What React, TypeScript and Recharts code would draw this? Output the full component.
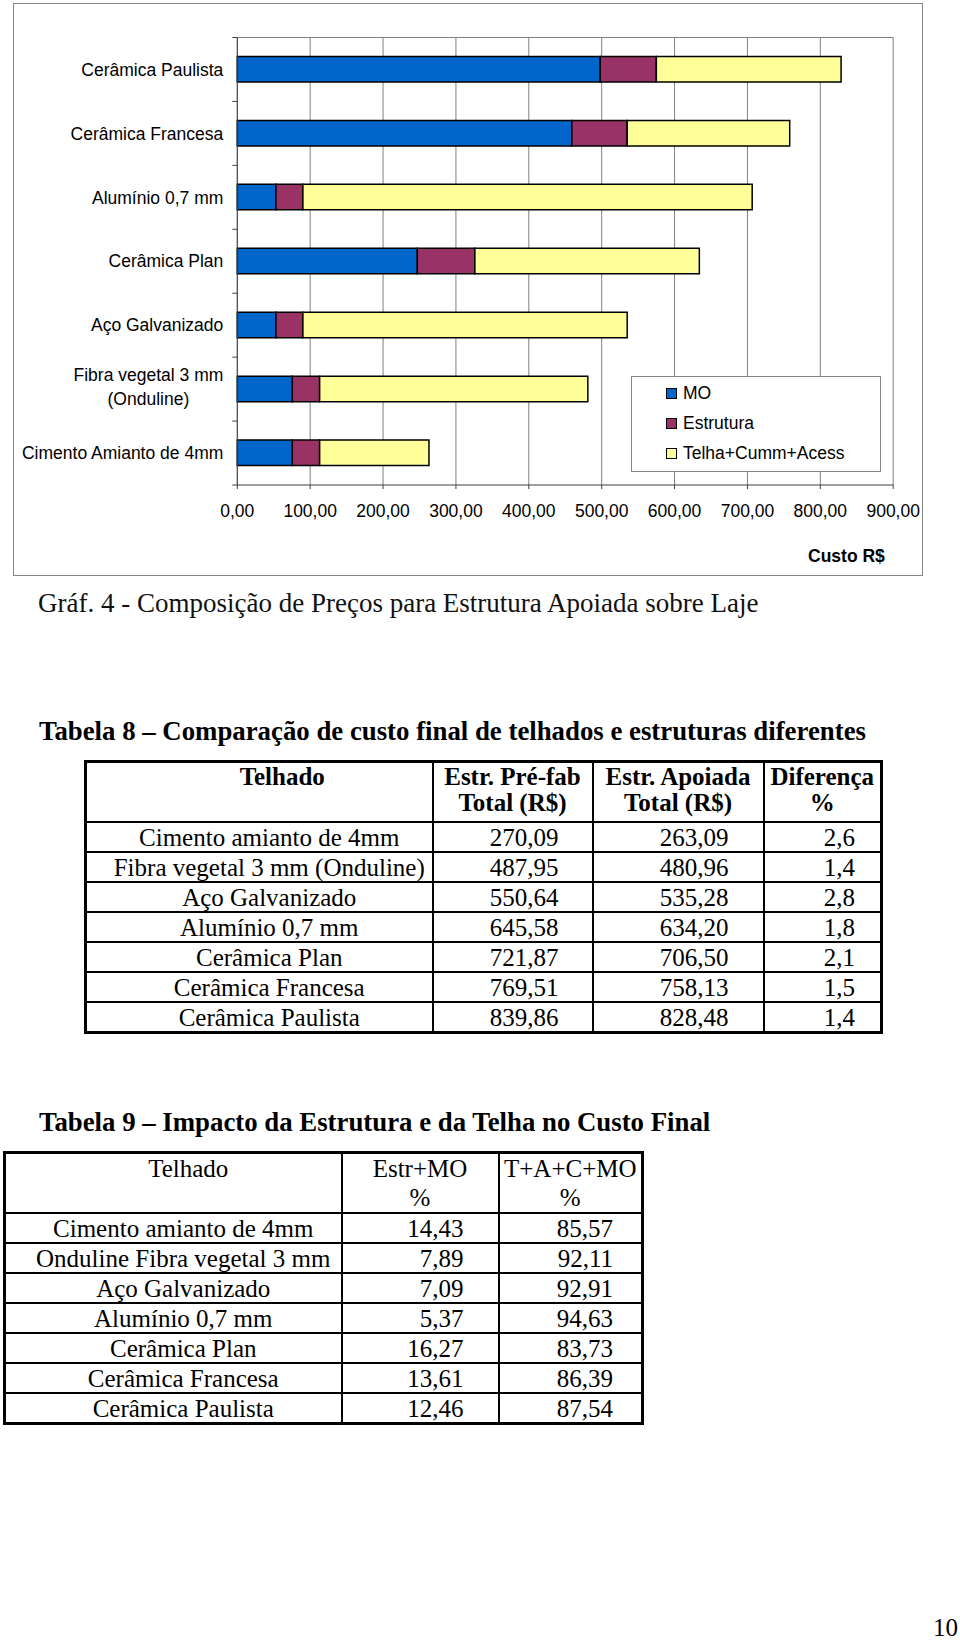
import React from 'react';
import { BarChart, Bar, XAxis, YAxis, CartesianGrid } from 'recharts';

// chart data, top row first
const categories = [
  'Cerâmica Paulista',
  'Cerâmica Francesa',
  'Alumínio 0,7 mm',
  'Cerâmica Plan',
  'Aço Galvanizado',
  'Fibra vegetal 3 mm\n(Onduline)',
  'Cimento Amianto de 4mm',
];
const moValues = [498, 459, 53, 247, 53, 75.5, 75.5];
const estruturaValues = [77, 76, 37, 79, 37, 37.5, 37.5];
const telhaValues = [253.5, 223, 616.5, 308, 445, 368, 150];
const xTicks = [0, 100, 200, 300, 400, 500, 600, 700, 800, 900];

const series = [
  { key: 'mo', name: 'MO', color: '#0066CC' },
  { key: 'estrutura', name: 'Estrutura', color: '#993366' },
  { key: 'telha', name: 'Telha+Cumm+Acess', color: '#FFFF99' },
];

// Tabela 8
const t8Names = [
  'Cimento amianto de 4mm',
  'Fibra vegetal 3 mm (Onduline)',
  'Aço Galvanizado',
  'Alumínio 0,7 mm',
  'Cerâmica Plan',
  'Cerâmica Francesa',
  'Cerâmica Paulista',
];
const t8PreFab = ['270,09', '487,95', '550,64', '645,58', '721,87', '769,51', '839,86'];
const t8Apoiada = ['263,09', '480,96', '535,28', '634,20', '706,50', '758,13', '828,48'];
const t8Diferenca = ['2,6', '1,4', '2,8', '1,8', '2,1', '1,5', '1,4'];

// Tabela 9
const t9Names = [
  'Cimento amianto de 4mm',
  'Onduline Fibra vegetal 3 mm',
  'Aço Galvanizado',
  'Alumínio 0,7 mm',
  'Cerâmica Plan',
  'Cerâmica Francesa',
  'Cerâmica Paulista',
];
const t9EstrMo = ['14,43', '7,89', '7,09', '5,37', '16,27', '13,61', '12,46'];
const t9Tacmo = ['85,57', '92,11', '92,91', '94,63', '83,73', '86,39', '87,54'];

const chartData = categories.map((name, i) => ({
  name,
  mo: moValues[i],
  estrutura: estruturaValues[i],
  telha: telhaValues[i],
}));

const SANS = "'Liberation Sans', Arial, sans-serif";
const SERIF = "'Liberation Serif', 'Times New Roman', serif";
const FS = 17.5;

const CHART_W = 910;
const CHART_H = 573;
const MARGIN = { top: 33.5, right: 29.8, bottom: 51, left: 0 };
const TOP_AXIS_H = 1;
const X_AXIS_H = 40;
const Y_AXIS_W = 224.3;
const PLOT_H = CHART_H - MARGIN.top - MARGIN.bottom - TOP_AXIS_H - X_AXIS_H;
const AXIS_COLOR = '#404040';
const GRID_COLOR = '#808080';

let measureCtx: CanvasRenderingContext2D | null = null;
function textWidth(s: string, font: string) {
  if (!measureCtx) measureCtx = document.createElement('canvas').getContext('2d');
  if (!measureCtx) return s.length * 9;
  measureCtx.font = font;
  return measureCtx.measureText(s).width;
}

function CategoryTick(props: any) {
  const { x, y, payload, index } = props;
  const lines = String(payload.value).split('\n');
  const band = PLOT_H / categories.length;
  const right = x - 14;
  const multi = lines.length > 1;
  const widest = Math.max(...lines.map((l) => textWidth(l, `${FS}px ${SANS}`)));
  const lineH = 24.7;
  const startY = y - ((lines.length - 1) * lineH) / 2 - (multi ? 2.3 : 0);
  return (
    <g>
      <line x1={x - 5} x2={x} y1={y - band / 2} y2={y - band / 2} stroke={AXIS_COLOR} strokeWidth={1} />
      {index === categories.length - 1 && (
        <line x1={x - 5} x2={x} y1={y + band / 2} y2={y + band / 2} stroke={AXIS_COLOR} strokeWidth={1} />
      )}
      <text fontFamily={SANS} fontSize={FS} fill="#000" textAnchor={multi ? 'middle' : 'end'}>
        {lines.map((l, i) => (
          <tspan key={i} x={multi ? right - widest / 2 : right} y={startY + i * lineH} dy="0.355em">
            {l}
          </tspan>
        ))}
      </text>
    </g>
  );
}

const fmt = (v: number) => v.toFixed(2).replace('.', ',');

function CostChart() {
  return (
    <BarChart
      width={CHART_W}
      height={CHART_H}
      data={chartData}
      layout="vertical"
      margin={MARGIN}
      barSize={25.5}
    >
      <CartesianGrid horizontal={false} stroke={GRID_COLOR} strokeWidth={1} />
      <XAxis
        type="number"
        domain={[0, 900]}
        ticks={xTicks}
        tickFormatter={fmt}
        height={X_AXIS_H}
        tick={{ fontSize: FS, fill: '#000', fontFamily: SANS }}
        axisLine={{ stroke: AXIS_COLOR }}
        tickLine={{ stroke: AXIS_COLOR }}
        tickSize={4}
        tickMargin={15.5}
        interval={0}
      />
      <XAxis
        xAxisId="top"
        orientation="top"
        type="number"
        domain={[0, 900]}
        height={TOP_AXIS_H}
        tick={false}
        tickLine={false}
        axisLine={{ stroke: GRID_COLOR }}
      />
      <YAxis
        type="category"
        dataKey="name"
        width={Y_AXIS_W}
        tick={<CategoryTick />}
        tickLine={false}
        tickSize={0}
        tickMargin={0}
        axisLine={{ stroke: AXIS_COLOR }}
        interval={0}
      />
      {series.map((s) => (
        <Bar
          key={s.key}
          dataKey={s.key}
          name={s.name}
          stackId="a"
          fill={s.color}
          stroke="#000"
          strokeWidth={1.5}
          isAnimationActive={false}
        />
      ))}
    </BarChart>
  );
}

function ChartLegend() {
  return (
    <div
      style={{
        position: 'absolute', left: 631, top: 376, width: 250, height: 96,
        border: '1.5px solid #888', background: '#fff', boxSizing: 'border-box',
      }}
    >
      {series.map((s, i) => (
        <div key={s.key} style={{ position: 'absolute', left: 34, top: 5 + i * 30.2, height: 22, display: 'flex', alignItems: 'center' }}>
          <span style={{ width: 11, height: 11, background: s.color, border: '1.5px solid #000', display: 'inline-block', boxSizing: 'border-box' }} />
          <span style={{ marginLeft: 6, fontFamily: SANS, fontSize: FS, color: '#000', lineHeight: '22px' }}>{s.name}</span>
        </div>
      ))}
    </div>
  );
}

const td: React.CSSProperties = {
  border: '2px solid #000', padding: 0, fontFamily: SERIF, fontSize: 25, color: '#000', whiteSpace: 'nowrap',
};

function Tabela8() {
  const num: React.CSSProperties = { ...td, textAlign: 'right', lineHeight: '26px', height: 26, paddingTop: 2 };
  const head: React.CSSProperties = { ...td, fontWeight: 'bold', textAlign: 'center', verticalAlign: 'top', lineHeight: '26px', height: 57, paddingTop: 1 };
  return (
    <table style={{ position: 'absolute', left: 84, top: 760, width: 796, borderCollapse: 'collapse', tableLayout: 'fixed', border: '3px solid #000' }}>
      <colgroup>
        <col style={{ width: 347 }} />
        <col style={{ width: 160 }} />
        <col style={{ width: 171 }} />
        <col style={{ width: 118 }} />
      </colgroup>
      <tbody>
        <tr>
          <td style={{ ...head, paddingLeft: 46 }}>Telhado</td>
          <td style={head}>Estr. Pré-fab<br />Total (R$)</td>
          <td style={head}>Estr. Apoiada<br />Total (R$)</td>
          <td style={head}>Diferença<br />%</td>
        </tr>
        {t8Names.map((n, i) => (
          <tr key={n}>
            <td style={{ ...num, textAlign: 'center', paddingLeft: 20 }}>{n}</td>
            <td style={{ ...num, paddingRight: 33 }}>{t8PreFab[i]}</td>
            <td style={{ ...num, paddingRight: 34 }}>{t8Apoiada[i]}</td>
            <td style={{ ...num, paddingRight: 25 }}>{t8Diferenca[i]}</td>
          </tr>
        ))}
      </tbody>
    </table>
  );
}

function Tabela9() {
  const num: React.CSSProperties = { ...td, textAlign: 'right', lineHeight: '26px', height: 26, paddingTop: 2 };
  const head: React.CSSProperties = { ...td, textAlign: 'center', verticalAlign: 'top', lineHeight: '29px', height: 57, paddingTop: 0 };
  return (
    <table style={{ position: 'absolute', left: 3, top: 1151, width: 638, borderCollapse: 'collapse', tableLayout: 'fixed', border: '3px solid #000' }}>
      <colgroup>
        <col style={{ width: 337 }} />
        <col style={{ width: 157 }} />
        <col style={{ width: 144 }} />
      </colgroup>
      <tbody>
        <tr>
          <td style={{ ...head, paddingLeft: 30 }}>Telhado</td>
          <td style={head}>Estr+MO<br />%</td>
          <td style={head}>T+A+C+MO<br />%</td>
        </tr>
        {t9Names.map((n, i) => (
          <tr key={n}>
            <td style={{ ...num, textAlign: 'center', paddingLeft: 20 }}>{n}</td>
            <td style={{ ...num, paddingRight: 34 }}>{t9EstrMo[i]}</td>
            <td style={{ ...num, paddingRight: 28 }}>{t9Tacmo[i]}</td>
          </tr>
        ))}
      </tbody>
    </table>
  );
}

export default function App() {
  return (
    <div style={{ position: 'absolute', left: 0, top: 0, width: 960, height: 1640, background: '#fff', overflow: 'hidden' }}>
      <div style={{ position: 'absolute', left: 13, top: 3, width: CHART_W, height: CHART_H }}>
        <CostChart />
      </div>
      <div style={{ position: 'absolute', left: 13, top: 3, width: CHART_W, height: CHART_H, border: '1.5px solid #888', boxSizing: 'border-box', pointerEvents: 'none' }} />
      <ChartLegend />
      <div style={{ position: 'absolute', left: 808, top: 546, fontFamily: SANS, fontSize: FS, fontWeight: 'bold', lineHeight: '20px', color: '#000' }}>
        Custo R$
      </div>
      <div style={{ position: 'absolute', left: 38, top: 590, fontFamily: SERIF, fontSize: 27, lineHeight: '27px', color: '#111', whiteSpace: 'nowrap' }}>
        Gráf. 4 - Composição de Preços para Estrutura Apoiada sobre Laje
      </div>
      <div style={{ position: 'absolute', left: 39, top: 717.5, fontFamily: SERIF, fontSize: 26.8, fontWeight: 'bold', lineHeight: '27px', color: '#000', whiteSpace: 'nowrap' }}>
        Tabela 8 – Comparação de custo final de telhados e estruturas diferentes
      </div>
      <Tabela8 />
      <div style={{ position: 'absolute', left: 39, top: 1109.3, fontFamily: SERIF, fontSize: 26.8, fontWeight: 'bold', lineHeight: '27px', color: '#000', whiteSpace: 'nowrap' }}>
        Tabela 9 – Impacto da Estrutura e da Telha no Custo Final
      </div>
      <Tabela9 />
      <div style={{ position: 'absolute', left: 933, top: 1618, fontFamily: SERIF, fontSize: 25, lineHeight: '20px', color: '#000' }}>
        10
      </div>
    </div>
  );
}
